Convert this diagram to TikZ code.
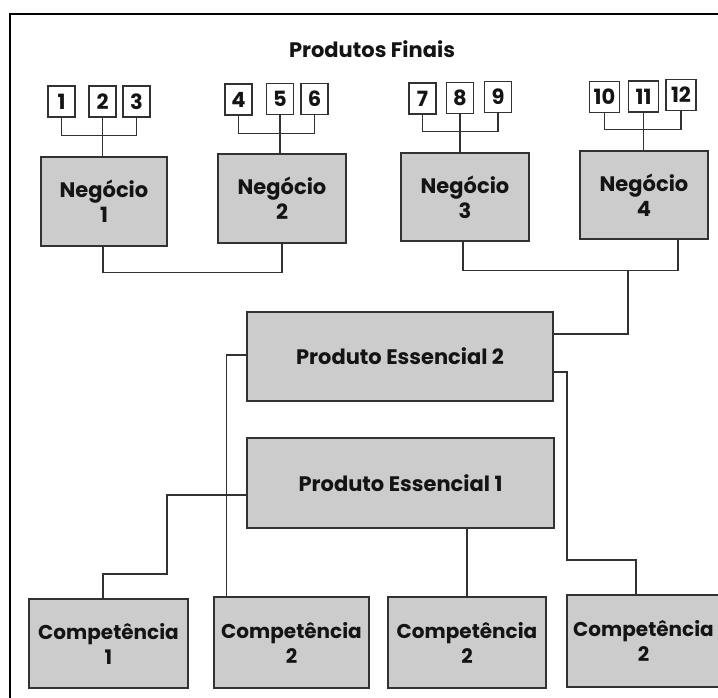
\documentclass[tikz,border=0pt]{standalone}
\usepackage{fontspec}
\setmainfont{Poppins}
\definecolor{boxfill}{RGB}{204,204,204}
\definecolor{edge}{RGB}{50,50,50}
\definecolor{ink}{RGB}{20,20,20}
\begin{document}
\begin{tikzpicture}[x=1pt,y=-1pt,
  txt/.style={font=\bfseries\fontsize{21}{25}\selectfont, text=ink, align=center},
  numbox/.style={draw=edge, line width=1.2pt, fill=white, minimum height=31pt,
                 minimum width=27pt, inner sep=0pt, txt},
  bigbox/.style={draw=edge, line width=1.2pt, fill=boxfill, inner sep=0pt, txt},
  compbox/.style={bigbox, font=\bfseries\fontsize{20}{25}\selectfont},
  wire/.style={draw=edge, line width=1.1pt}]
\useasboundingbox (0,0) rectangle (718,698);
\clip (0,0) rectangle (718,698);

% frame
\draw[line width=2.4pt] (718,14) -- (10,14) -- (10,700);

\node[txt] (title) at (372,49) {Produtos Finais};

% end products
\node[numbox] (p1) at (61.5,101.5) {1};
\node[numbox] (p2) at (102.5,101.5) {2};
\node[numbox] (p3) at (136.5,101.5) {3};
\node[numbox] (p4) at (238.5,99.5) {4};
\node[numbox] (p5) at (280,99) {5};
\node[numbox] (p6) at (314.5,99) {6};
\node[numbox] (p7) at (422.5,98.5) {7};
\node[numbox] (p8) at (460,98) {8};
\node[numbox] (p9) at (498,97) {9};
\node[numbox, minimum width=30pt] (p10) at (604.5,97) {10};
\node[numbox, minimum width=30pt] (p11) at (643.5,96.5) {11};
\node[numbox, minimum width=30pt] (p12) at (681,95) {12};

% businesses
\node[bigbox, minimum width=126pt, minimum height=89pt] (ng1) at (104,201.5) {Negócio\\1};
\node[bigbox, minimum width=128pt, minimum height=89pt] (ng2) at (282,198.5) {Negócio\\2};
\node[bigbox, minimum width=128pt, minimum height=88pt] (ng3) at (465,197) {Negócio\\3};
\node[bigbox, minimum width=128pt, minimum height=88pt] (ng4) at (644,195) {Negócio\\4};

% core products
\node[bigbox, minimum width=306pt, minimum height=89pt] (pe2) at (400,356.5) {Produto Essencial 2};
\node[bigbox, minimum width=307pt, minimum height=90pt] (pe1) at (400.5,483) {Produto Essencial 1};

% competences
\node[compbox, minimum width=159pt, minimum height=89pt] (c1) at (108.5,643.5) {Competência\\1};
\node[compbox, minimum width=155pt, minimum height=91pt] (c2) at (291.5,642.5) {Competência\\2};
\node[compbox, minimum width=158pt, minimum height=91pt] (c3) at (467,642.5) {Competência\\2};
\node[compbox, minimum width=153pt, minimum height=92pt] (c4) at (643.5,641) {Competência\\2};

% brackets: products to businesses
\draw[wire] (p1.south) -- ++(0,18) -| (p3.south);
\draw[wire] (p2.south) -- (p2.south |- ng1.north);
\draw[wire] (p4.south) -- ++(0,18) -| (p6.south);
\draw[wire] (p5.south) -- (p5.south |- ng2.north);
\draw[wire] (p7.south) -- ++(0,17) -| (p9.south);
\draw[wire] (p8.south) -- (p8.south |- ng3.north);
\draw[wire] (p10.south) -- ++(0,16) -| (p12.south);
\draw[wire] (p11.south) -- (p11.south |- ng4.north);

% businesses to core products
\coordinate (j1) at (628,270);
\draw[wire] ([xshift=-1pt]ng1.south) -- ++(0,26) -| (ng2.south);
\draw[wire] ([xshift=-2pt]ng3.south) -- ++(0,29) -| ([xshift=34pt]ng4.south);
\draw[wire] (j1) |- ([yshift=22.5pt]pe2.east);

% core products to competences
\coordinate (k1) at (167,574);
\coordinate (k2) at (567,560);
\draw[wire] ([yshift=1.5pt]pe2.west) -| ([xshift=13pt]c2.north west);
\draw[wire] ([yshift=-15.5pt]pe2.east) -| (k2) -| ([xshift=-7.5pt]c4.north);
\draw[wire] ([yshift=-12pt]pe1.west) -| (k1) -| ([xshift=-5.5pt]c1.north);
\draw[wire] (c3.north |- pe1.south) -- (c3.north);
\end{tikzpicture}
\end{document}
